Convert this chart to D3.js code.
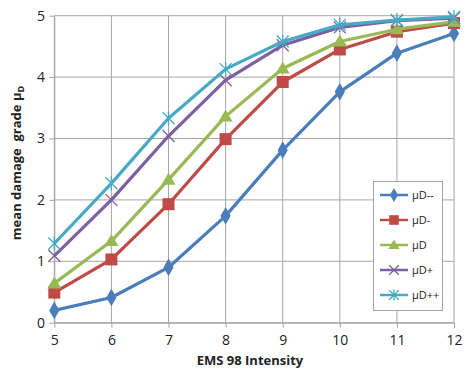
<!DOCTYPE html>
<html><head><meta charset="utf-8">
<script src="https://cdn.jsdelivr.net/npm/d3@7"></script>
<style>body{margin:0;background:#fff}svg{display:block}</style>
</head><body>
<svg id="c" width="466" height="375"></svg>
<script>
const intensities = [5, 6, 7, 8, 9, 10, 11, 12];
const seriesNames = ["μD--", "μD-", "μD", "μD+", "μD++"];
const muDmm = [0.20, 0.41, 0.90, 1.74, 2.81, 3.76, 4.39, 4.71];
const muDm  = [0.49, 1.03, 1.93, 2.99, 3.92, 4.45, 4.74, 4.88];
const muD   = [0.64, 1.33, 2.33, 3.36, 4.14, 4.58, 4.78, 4.90];
const muDp  = [1.09, 2.00, 3.04, 3.95, 4.52, 4.81, 4.92, 4.96];
const muDpp = [1.29, 2.27, 3.33, 4.13, 4.58, 4.85, 4.93, 4.98];
const yTicks = [0, 1, 2, 3, 4, 5];
const colors = ["#4a7ebb", "#be4b48", "#98b954", "#7d60a0", "#46aac5"];
const markers = ["diamond", "square", "triangle", "x", "star"];
const allSeries = [muDmm, muDm, muD, muDp, muDpp];

const svg = d3.select("#c");
const x = d3.scaleLinear().domain([5, 12]).range([54.3, 454]);
const y = d3.scaleLinear().domain([0, 5]).range([322.7, 15.7]);
const font = "'Open Sans', 'Liberation Sans', sans-serif";
const grid = "#a6a6a6";

// gridlines
svg.append("g").selectAll("line").data(intensities).join("line")
  .attr("x1", d => x(d)).attr("x2", d => x(d)).attr("y1", y(5)).attr("y2", y(0))
  .attr("stroke", grid).attr("stroke-width", 1);
svg.append("g").selectAll("line").data(yTicks).join("line")
  .attr("x1", x(5)).attr("x2", x(12)).attr("y1", d => y(d)).attr("y2", d => y(d))
  .attr("stroke", grid).attr("stroke-width", 1);

// axes
const xa = svg.append("g").attr("transform", `translate(0,${y(0)})`)
  .call(d3.axisBottom(x).tickValues(intensities).tickFormat(d3.format("d")).tickSize(5).tickSizeOuter(0));
const ya = svg.append("g").attr("transform", `translate(${x(5)},0)`)
  .call(d3.axisLeft(y).tickValues(yTicks).tickFormat(d3.format("d")).tickSize(5).tickSizeOuter(0));
[xa, ya].forEach(a => {
  a.selectAll("path,line").attr("stroke", grid);
  a.selectAll("text").attr("font-family", font).attr("font-size", 14).attr("fill", "#222");
});
xa.selectAll("text").attr("dy", "1.05em");
ya.selectAll("text").attr("dx", "-0.1em");

// series
function marker(g, type, color, cx, cy, s) {
  if (type === "diamond") {
    g.append("path").attr("d", d3.symbol(d3.symbolDiamond, 90 * s * s)())
      .attr("transform", `translate(${cx},${cy})`).attr("fill", color);
  } else if (type === "square") {
    g.append("rect").attr("x", cx - 6 * s).attr("y", cy - 6 * s).attr("width", 12 * s).attr("height", 12 * s).attr("fill", color);
  } else if (type === "triangle") {
    g.append("path").attr("d", `M${cx},${cy-7*s}L${cx+7*s},${cy+5*s}L${cx-7*s},${cy+5*s}Z`).attr("fill", color);
  } else if (type === "x") {
    g.append("path").attr("d", `M${cx-6*s},${cy-6*s}L${cx+6*s},${cy+6*s}M${cx-6*s},${cy+6*s}L${cx+6*s},${cy-6*s}`)
      .attr("stroke", color).attr("stroke-width", 1.3);
  } else {
    g.append("path").attr("d", `M${cx-6*s},${cy-6*s}L${cx+6*s},${cy+6*s}M${cx-6*s},${cy+6*s}L${cx+6*s},${cy-6*s}M${cx},${cy-7*s}L${cx},${cy+7*s}`)
      .attr("stroke", color).attr("stroke-width", 1.3);
  }
}
const line = d3.line().x((d, i) => x(intensities[i])).y(d => y(d));
allSeries.forEach((vals, si) => {
  const g = svg.append("g");
  g.append("path").datum(vals).attr("d", line).attr("fill", "none")
    .attr("stroke", colors[si]).attr("stroke-width", 3.2).attr("stroke-linejoin", "round");
  vals.forEach((v, i) => marker(g, markers[si], colors[si], x(intensities[i]), y(v), 1));
});

// legend
const lg = svg.append("g");
lg.append("rect").attr("x", 373.5).attr("y", 181.5).attr("width", 69).attr("height", 129)
  .attr("fill", "#fff").attr("stroke", "#a6a6a6").attr("stroke-width", 1);
seriesNames.forEach((n, i) => {
  const ly = 195 + i * 25;
  lg.append("line").attr("x1", 380).attr("x2", 408).attr("y1", ly).attr("y2", ly)
    .attr("stroke", colors[i]).attr("stroke-width", 2.5);
  marker(lg.append("g"), markers[i], colors[i], 394, ly, 0.8);
  lg.append("text").attr("x", 412).attr("y", ly + 4).attr("font-family", font).attr("font-size", 11)
    .attr("fill", "#222").text(n);
});

// axis titles
svg.append("text").attr("x", 250).attr("y", 365).attr("text-anchor", "middle")
  .attr("font-family", font).attr("font-size", 13).attr("font-weight", "bold").attr("fill", "#222")
  .text("EMS 98 Intensity");
const yt = svg.append("text").attr("transform", "translate(21,163) rotate(-90)").attr("text-anchor", "middle")
  .style("white-space", "pre")
  .attr("font-family", font).attr("font-size", 13).attr("font-weight", "bold").attr("fill", "#222");
yt.append("tspan").text("mean damage  grade μ");
yt.append("tspan").attr("font-size", 9).attr("dy", 3).text("D");
</script>
</body></html>
